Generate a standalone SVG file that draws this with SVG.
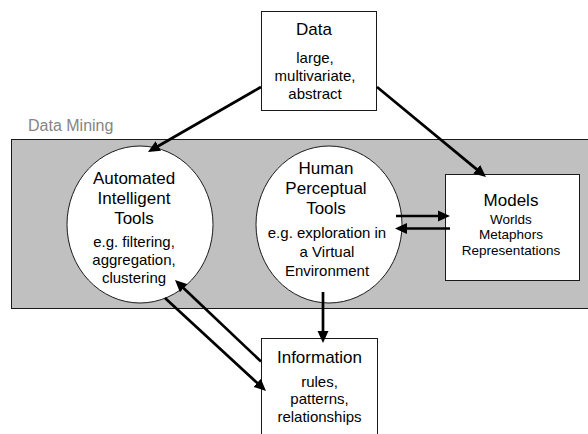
<svg xmlns="http://www.w3.org/2000/svg" width="588" height="434" viewBox="0 0 588 434">
  <style>
    text { font-family: "Liberation Sans", Arial, sans-serif; fill: #000; text-anchor: middle; }
    .title { font-size: 17px; }
    .sub { font-size: 15px; }
    .small { font-size: 13.5px; }
    .label { font-size: 16px; fill: #858585; text-anchor: start; }
    .box { fill: #fff; stroke: #1a1a1a; stroke-width: 1; }
    .oval { fill: #fff; stroke: #1a1a1a; stroke-width: 1; }
    .arrow { fill: none; stroke: #000; stroke-width: 2.7; marker-end: url(#head); }
  </style>
  <defs>
    <marker id="head" markerUnits="userSpaceOnUse" viewBox="-4 -6 12 12" markerWidth="12" markerHeight="12" refX="0" refY="0" orient="auto">
      <path d="M-4,-5.5 L8,0 L-4,5.5 z" fill="#000"/>
    </marker>
  </defs>

  <rect width="588" height="434" fill="#fff"/>

  <!-- Data Mining region -->
  <g id="data-mining">
    <rect x="11.5" y="139.5" width="590" height="169" fill="#c0c0c0" stroke="#1a1a1a" stroke-width="1"/>
    <text class="label" x="28" y="131">Data Mining</text>
  </g>

  <g id="data">
    <rect class="box" x="261.5" y="11.5" width="115" height="99"/>
    <text class="title" x="314" y="35">Data</text>
    <text class="sub" x="315" y="63">large,</text>
    <text class="sub" x="315" y="81">multivariate,</text>
    <text class="sub" x="315" y="99">abstract</text>
  </g>

  <g id="automated-tools">
    <ellipse class="oval" cx="140" cy="224.5" rx="73" ry="78.5"/>
    <text class="title" x="134" y="184">Automated</text>
    <text class="title" x="134" y="204">Intelligent</text>
    <text class="title" x="134" y="223.5">Tools</text>
    <text class="sub" x="134" y="247">e.g. filtering,</text>
    <text class="sub" x="134" y="265">aggregation,</text>
    <text class="sub" x="134" y="283">clustering</text>
  </g>

  <g id="human-tools">
    <ellipse class="oval" cx="329" cy="224.5" rx="73" ry="78.5"/>
    <text class="title" x="326" y="173.5">Human</text>
    <text class="title" x="326" y="194">Perceptual</text>
    <text class="title" x="326" y="214">Tools</text>
    <text class="sub" x="327" y="238">e.g. exploration in</text>
    <text class="sub" x="327" y="256.5">a Virtual</text>
    <text class="sub" x="327" y="275.5">Environment</text>
  </g>

  <g id="models">
    <rect class="box" x="445.5" y="174.5" width="134" height="106"/>
    <text class="title" x="511" y="205.5">Models</text>
    <text class="small" x="511" y="223.5">Worlds</text>
    <text class="small" x="511" y="239">Metaphors</text>
    <text class="small" x="511" y="254.5">Representations</text>
  </g>

  <g id="information">
    <rect class="box" x="261.5" y="338.5" width="116" height="110"/>
    <text class="title" x="319.5" y="362.5">Information</text>
    <text class="sub" x="319.5" y="386.5">rules,</text>
    <text class="sub" x="319.5" y="404">patterns,</text>
    <text class="sub" x="319.5" y="422">relationships</text>
  </g>

  <g id="connectors">
    <line class="arrow" x1="261" y1="87" x2="154.9" y2="148"/>
    <line class="arrow" x1="377" y1="87" x2="479.8" y2="171.9"/>
    <line class="arrow" x1="396" y1="216" x2="442" y2="216"/>
    <line class="arrow" x1="450" y1="228.5" x2="403" y2="228.5"/>
    <line class="arrow" x1="323" y1="292" x2="323" y2="335"/>
    <line class="arrow" x1="261" y1="361.5" x2="180.8" y2="285.5"/>
    <line class="arrow" x1="165" y1="298" x2="260.1" y2="385.6"/>
  </g>
</svg>
